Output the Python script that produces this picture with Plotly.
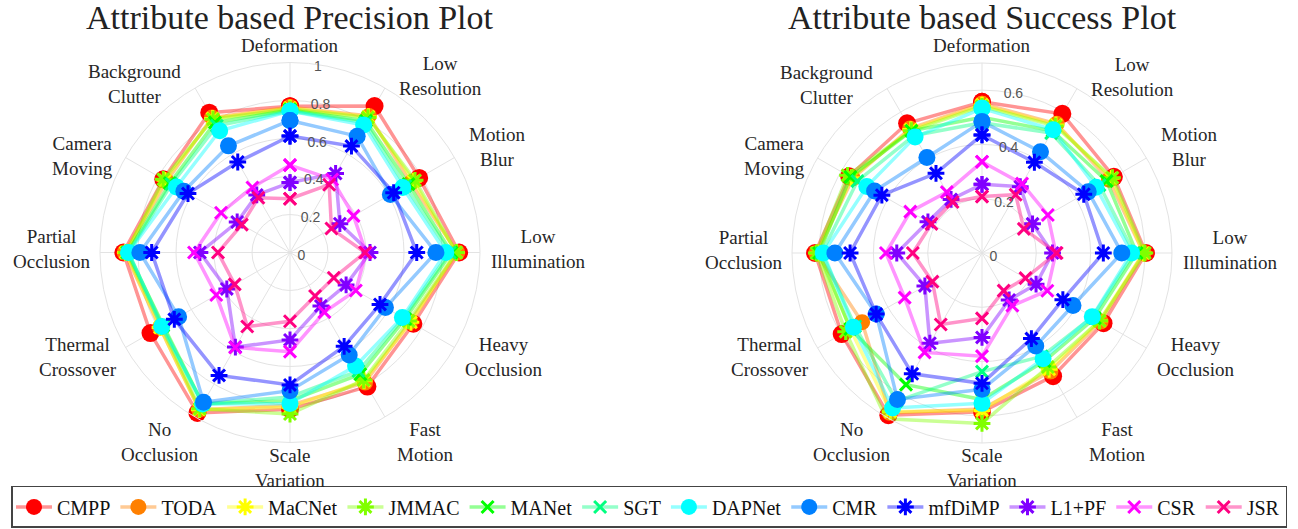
import plotly.graph_objects as go

# Attribute categories, clockwise from the top
attributes = ["Deformation", "Low Resolution", "Motion Blur", "Low Illumination",
              "Heavy Occlusion", "Fast Motion", "Scale Variation", "No Occlusion",
              "Thermal Crossover", "Partial Occlusion", "Camera Moving", "Background Clutter"]

trackers = ["CMPP", "TODA", "MaCNet", "JMMAC", "MANet", "SGT",
            "DAPNet", "CMR", "mfDiMP", "L1+PF", "CSR", "JSR"]

# Precision rate per attribute
precision_cmpp = [0.770, 0.890, 0.785, 0.890, 0.750, 0.815, 0.825, 0.975, 0.848, 0.877, 0.770, 0.850]
precision_toda = [0.765, 0.830, 0.735, 0.880, 0.730, 0.790, 0.805, 0.955, 0.790, 0.870, 0.750, 0.820]
precision_macnet = [0.760, 0.825, 0.750, 0.875, 0.735, 0.780, 0.815, 0.955, 0.790, 0.865, 0.760, 0.815]
precision_jmmac = [0.755, 0.820, 0.760, 0.875, 0.720, 0.775, 0.850, 0.950, 0.780, 0.860, 0.770, 0.810]
precision_manet = [0.750, 0.800, 0.720, 0.850, 0.700, 0.740, 0.780, 0.920, 0.770, 0.855, 0.730, 0.790]
precision_sgt = [0.745, 0.790, 0.700, 0.840, 0.690, 0.720, 0.760, 0.920, 0.775, 0.850, 0.720, 0.770]
precision_dapnet = [0.745, 0.775, 0.685, 0.820, 0.683, 0.690, 0.795, 0.920, 0.780, 0.850, 0.690, 0.740]
precision_cmr = [0.695, 0.707, 0.610, 0.768, 0.580, 0.623, 0.727, 0.910, 0.677, 0.790, 0.645, 0.648]
precision_mfdimp = [0.613, 0.647, 0.630, 0.667, 0.547, 0.570, 0.697, 0.747, 0.703, 0.728, 0.620, 0.550]
precision_l1pf = [0.368, 0.480, 0.303, 0.421, 0.341, 0.325, 0.460, 0.575, 0.384, 0.474, 0.321, 0.350]
precision_csr = [0.460, 0.444, 0.386, 0.400, 0.400, 0.362, 0.522, 0.577, 0.448, 0.505, 0.419, 0.395]
precision_jsr = [0.283, 0.412, 0.252, 0.395, 0.266, 0.264, 0.362, 0.450, 0.336, 0.379, 0.293, 0.333]

# Success rate per attribute
success_cmpp = [0.557, 0.592, 0.561, 0.604, 0.517, 0.524, 0.585, 0.690, 0.597, 0.615, 0.565, 0.552]
success_toda = [0.550, 0.550, 0.540, 0.595, 0.505, 0.504, 0.575, 0.680, 0.510, 0.610, 0.550, 0.530]
success_macnet = [0.545, 0.545, 0.550, 0.595, 0.500, 0.495, 0.580, 0.675, 0.560, 0.605, 0.555, 0.525]
success_jmmac = [0.540, 0.540, 0.555, 0.600, 0.500, 0.485, 0.628, 0.705, 0.580, 0.610, 0.572, 0.520]
success_manet = [0.500, 0.520, 0.530, 0.570, 0.480, 0.460, 0.540, 0.560, 0.560, 0.600, 0.560, 0.520]
success_sgt = [0.480, 0.510, 0.500, 0.560, 0.470, 0.440, 0.437, 0.630, 0.540, 0.590, 0.530, 0.500]
success_dapnet = [0.533, 0.524, 0.485, 0.551, 0.469, 0.450, 0.554, 0.659, 0.547, 0.585, 0.490, 0.493]
success_cmr = [0.484, 0.431, 0.452, 0.515, 0.387, 0.396, 0.502, 0.623, 0.450, 0.542, 0.457, 0.406]
success_mfdimp = [0.435, 0.386, 0.433, 0.447, 0.344, 0.364, 0.480, 0.514, 0.450, 0.486, 0.426, 0.339]
success_l1pf = [0.253, 0.282, 0.215, 0.260, 0.230, 0.200, 0.311, 0.384, 0.243, 0.314, 0.230, 0.228]
success_csr = [0.336, 0.295, 0.280, 0.272, 0.278, 0.224, 0.380, 0.423, 0.329, 0.354, 0.305, 0.259]
success_jsr = [0.208, 0.248, 0.178, 0.275, 0.185, 0.160, 0.241, 0.304, 0.211, 0.255, 0.215, 0.217]

precision = [precision_cmpp, precision_toda, precision_macnet, precision_jmmac, precision_manet,
             precision_sgt, precision_dapnet, precision_cmr, precision_mfdimp, precision_l1pf,
             precision_csr, precision_jsr]
success = [success_cmpp, success_toda, success_macnet, success_jmmac, success_manet,
           success_sgt, success_dapnet, success_cmr, success_mfdimp, success_l1pf,
           success_csr, success_jsr]

rgb = [(255, 0, 0), (255, 128, 0), (255, 255, 0), (128, 255, 0), (0, 255, 0), (0, 255, 128),
       (0, 255, 255), (0, 128, 255), (0, 0, 255), (128, 0, 255), (255, 0, 255), (255, 0, 128)]
symbols = ["circle", "circle", "asterisk-open", "asterisk-open", "x-thin-open", "x-thin-open",
           "circle", "circle", "asterisk-open", "asterisk-open", "x-thin-open", "x-thin-open"]
sizes = [18, 16, 14, 14, 12, 12, 17, 17, 14, 14, 12, 12]

# Offsets (px) of each attribute label from its chart centre
label_offsets = [(0, -207), (150, -176), (207, -106), (248, -3), (214, 104), (135, 189),
                 (0, 215), (-130, 189), (-212, 104), (-238, -3), (-208, -97), (-156, -168)]

SERIF = "Liberation Serif, Times New Roman, serif"
W, H = 1298, 529

fig = go.Figure()


def add_series(values, polar, show):
    for name, vals, (r, g, b), sym, sz in zip(trackers, values, rgb, symbols, sizes):
        is_open = sym.endswith("open")
        fig.add_trace(go.Scatterpolar(
            r=vals + vals[:1],
            theta=attributes + attributes[:1],
            mode="lines+markers",
            name=name,
            legendgroup=name,
            showlegend=show,
            subplot=polar,
            line=dict(color=f"rgba({r},{g},{b},0.42)", width=3.5),
            marker=dict(symbol=sym, size=sz, color=f"rgb({r},{g},{b})",
                        line=dict(width=3 if is_open else 0, color=f"rgb({r},{g},{b})")),
        ))


add_series(precision, "polar", True)
add_series(success, "polar2", False)


def polar_layout(cx, cy, rad, rmax, ticks):
    return dict(
        domain=dict(x=[(cx - rad) / W, (cx + rad) / W], y=[(H - cy - rad) / H, (H - cy + rad) / H]),
        bgcolor="white",
        angularaxis=dict(
            type="category", categoryorder="array", categoryarray=attributes,
            rotation=90, direction="clockwise",
            showline=True, linecolor="#e3e3e3", linewidth=1,
            gridcolor="#e3e3e3", gridwidth=1, ticks="", showticklabels=False,
        ),
        radialaxis=dict(
            range=[0, rmax], tickvals=ticks, ticktext=[f"{t:g}" for t in ticks],
            angle=85, tickangle=85, showline=False, ticks="",
            gridcolor="#e3e3e3", gridwidth=1,
            tickfont=dict(family="Liberation Sans, Arial, sans-serif", size=14, color="#555555"),
        ),
    )


def attribute_labels(cx, cy):
    notes = []
    for text, (dx, dy) in zip(attributes, label_offsets):
        notes.append(dict(
            text=text.replace(" ", "<br>") if text != "Deformation" else text,
            x=(cx + dx) / W, y=1 - (cy + dy) / H, xref="paper", yref="paper",
            xanchor="center", yanchor="middle", align="center", showarrow=False,
            font=dict(family=SERIF, size=19, color="#262626"),
        ))
    return notes


titles = [
    dict(text="Attribute based Precision Plot", x=290 / W, y=1 - 18 / H, xref="paper", yref="paper",
         xanchor="center", yanchor="middle", showarrow=False,
         font=dict(family=SERIF, size=34, color="#222222")),
    dict(text="Attribute based Success Plot", x=982 / W, y=1 - 18 / H, xref="paper", yref="paper",
         xanchor="center", yanchor="middle", showarrow=False,
         font=dict(family=SERIF, size=34, color="#222222")),
]

fig.update_layout(
    width=W, height=H, autosize=False,
    margin=dict(l=0, r=0, t=0, b=0),
    paper_bgcolor="white", plot_bgcolor="white",
    polar=polar_layout(290, 252.5, 190, 1.0, [0, 0.2, 0.4, 0.6, 0.8, 1]),
    polar2=polar_layout(982, 253, 190, 0.7, [0, 0.2, 0.4, 0.6]),
    legend=dict(
        orientation="h", x=0.5, xanchor="center", y=0.002, yanchor="bottom",
        bordercolor="#444444", borderwidth=1.5, bgcolor="white", itemwidth=36,
        font=dict(family=SERIF, size=20, color="#111111"),
    ),
    annotations=titles + attribute_labels(290, 252.5) + attribute_labels(982, 253),
)

fig.write_html("out.html")
